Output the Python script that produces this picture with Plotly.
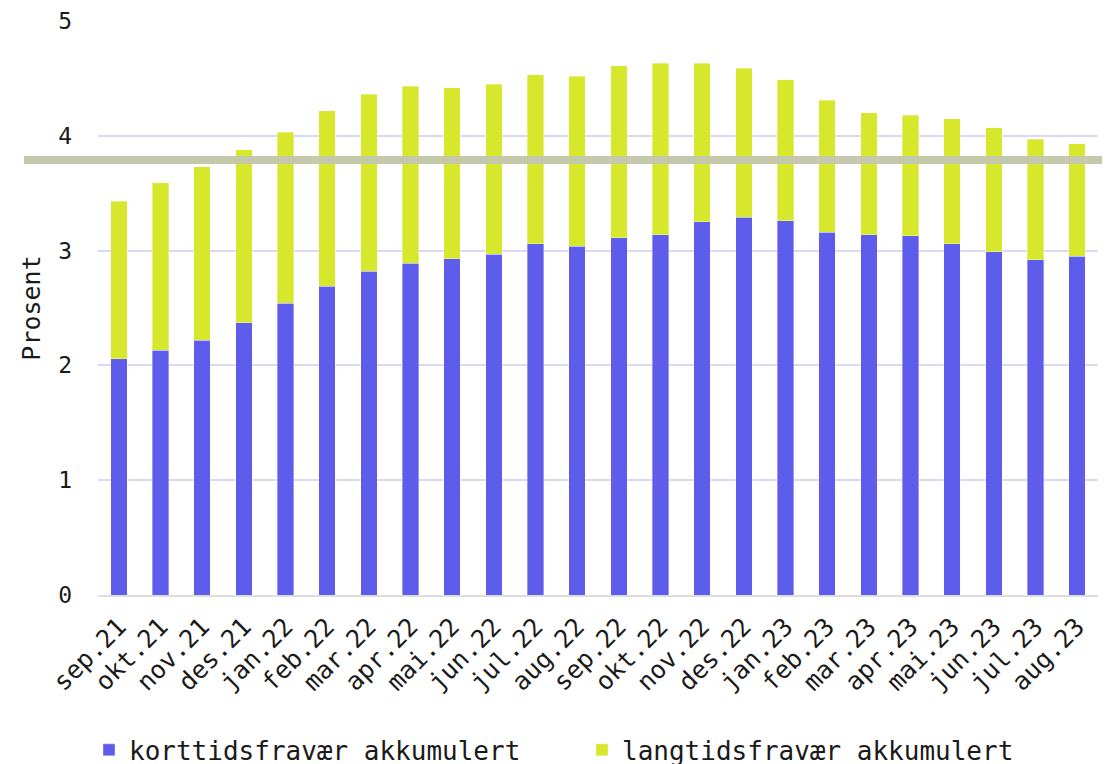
import plotly.graph_objects as go

months = ["sep.21", "okt.21", "nov.21", "des.21", "jan.22", "feb.22", "mar.22", "apr.22",
          "mai.22", "jun.22", "jul.22", "aug.22", "sep.22", "okt.22", "nov.22", "des.22",
          "jan.23", "feb.23", "mar.23", "apr.23", "mai.23", "jun.23", "jul.23", "aug.23"]

kort = [2.06, 2.13, 2.22, 2.37, 2.54, 2.69, 2.82, 2.89, 2.93, 2.97, 3.06, 3.04,
        3.11, 3.14, 3.25, 3.29, 3.26, 3.16, 3.14, 3.13, 3.06, 2.99, 2.92, 2.95]

total = [3.43, 3.59, 3.73, 3.88, 4.03, 4.22, 4.36, 4.43, 4.42, 4.45, 4.53, 4.52,
         4.61, 4.63, 4.63, 4.59, 4.49, 4.31, 4.20, 4.18, 4.15, 4.07, 3.97, 3.93]

lang = [round(t - k, 2) for t, k in zip(total, kort)]

reference_level = 3.79

FONT = "DejaVu Sans Mono"
BLUE = "#5E5CEA"
YELLOW = "#D7E72C"

fig = go.Figure()
fig.add_trace(go.Bar(x=months, y=kort, name="korttidsfravær akkumulert",
                     marker=dict(color=BLUE, line=dict(width=0.6, color="rgba(255,255,255,0.6)"))))
fig.add_trace(go.Bar(x=months, y=lang, name="langtidsfravær akkumulert",
                     marker=dict(color=YELLOW, line=dict(width=0.6, color="rgba(255,255,255,0.6)"))))

fig.add_shape(type="line", xref="paper", yref="y", x0=-0.074, x1=1.05,
              y0=reference_level, y1=reference_level,
              line=dict(color="#C4C9AC", width=8), layer="above")

fig.update_layout(
    barmode="stack",
    bargap=0.605,
    width=1110, height=764,
    margin=dict(l=90, r=20, t=13, b=177, autoexpand=False),
    paper_bgcolor="white", plot_bgcolor="white",
    font=dict(family=FONT, size=25, color="#1a1a1a"),
    showlegend=True,
    legend=dict(orientation="h", traceorder="normal", x=-0.009, xanchor="left",
                y=-0.229, yanchor="top",
                font=dict(size=26), entrywidth=448, entrywidthmode="pixels",
                itemclick=False),
    xaxis=dict(tickangle=-45, showgrid=False, showline=True, linecolor="#dddddd",
               linewidth=2, ticks="", tickfont=dict(size=25), automargin=False,
               ticklabelstandoff=5),
    yaxis=dict(range=[0, 5], dtick=1, showgrid=True, gridcolor="#D9D9F7", gridwidth=2,
               zeroline=False, ticks="", ticklabelstandoff=25, automargin=False,
               title=dict(text="Prosent", standoff=10, font=dict(size=25)),
               tickfont=dict(size=23)),
)

fig.write_html("out.html")
